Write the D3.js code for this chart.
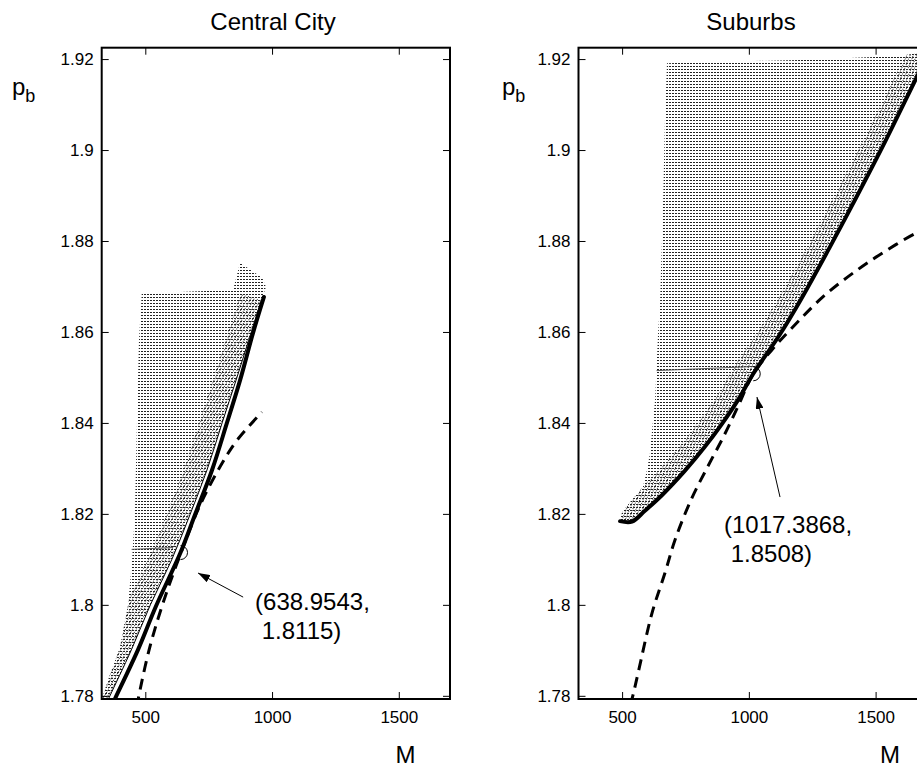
<!DOCTYPE html>
<html>
<head>
<meta charset="utf-8">
<script src="https://cdn.jsdelivr.net/npm/d3@7"></script>
<style>
  body { margin: 0; background: #fff; }
  svg { display: block; font-family: "Liberation Sans", Arial, sans-serif; }
</style>
</head>
<body>
<svg id="chart" width="917" height="768"></svg>
<script>
// ----- Axes -----
const xDomain = [328, 1702];
const yDomain = [1.7793, 1.9225];
const xTicks = [500, 1000, 1500];
const yTicks = [1.78, 1.8, 1.82, 1.84, 1.86, 1.88, 1.9, 1.92];
const yTickLabels = ["1.78", "1.8", "1.82", "1.84", "1.86", "1.88", "1.9", "1.92"];

// ----- Central City -----
// thick frontier
const cityFrontierM = [365, 380, 471, 542, 639, 696, 763, 822, 874, 925, 968];
const cityFrontierP = [1.7775, 1.7793, 1.7901, 1.7997, 1.8115, 1.8198, 1.8296, 1.8400, 1.8494, 1.8598, 1.8677];
// thin envelope of the shaded family
const cityEnvelopeM = [340, 358, 445, 520, 604, 676, 743, 803, 858, 908, 958];
const cityEnvelopeP = [1.7775, 1.7797, 1.7901, 1.8000, 1.8099, 1.8198, 1.8296, 1.8400, 1.8494, 1.8582, 1.8670];
// dashed curve
const cityDashM = [466, 472, 515, 570, 641, 720, 810, 862, 960];
const cityDashP = [1.7775, 1.7793, 1.7901, 1.8004, 1.8115, 1.8224, 1.8318, 1.8362, 1.8424];
// shaded region: left edge (bottom to top) and top edge (left to right)
const cityHatchLeftM = [328, 329, 353, 400, 432, 447, 459, 467, 475, 486];
const cityHatchLeftP = [1.7775, 1.7793, 1.7835, 1.7907, 1.8000, 1.8092, 1.8202, 1.8400, 1.8582, 1.8686];
const cityHatchTopM = [637, 846, 874, 961, 976];
const cityHatchTopP = [1.8688, 1.8692, 1.8752, 1.8719, 1.8699];
// darker line of the family at the optimum
const cityLevelM = [446, 610];
const cityLevelP = [1.8122, 1.8126];
const cityOptimum = [638.9543, 1.8115];
const cityArrowM = [886, 708];
const cityArrowP = [1.8017, 1.8070];
const cityLabelPos = [933, 1.7989];
const cityLabel = ["(638.9543,", " 1.8115)"];

// ----- Suburbs -----
const subFrontierM = [492, 539, 590, 657, 748, 827, 894, 957, 1017.3868, 1123, 1206, 1320, 1423, 1537, 1663, 1754];
const subFrontierP = [1.8184, 1.8183, 1.8207, 1.8241, 1.8295, 1.8348, 1.8398, 1.8450, 1.8508, 1.8595, 1.8672, 1.8787, 1.8895, 1.9018, 1.9161, 1.9264];
const subDashM = [531, 539, 563, 618, 669, 709, 772, 835, 902, 957, 1017.3868, 1090, 1162, 1292, 1427, 1545, 1663, 1754];
const subDashP = [1.7780, 1.7793, 1.7850, 1.7982, 1.8070, 1.8143, 1.8231, 1.8301, 1.8372, 1.8436, 1.8508, 1.8560, 1.8604, 1.8677, 1.8736, 1.8780, 1.8818, 1.8837];
const subHatchLeftM = [492, 500, 539, 582, 598, 610, 622, 630, 642, 650, 662, 669, 677];
const subHatchLeftP = [1.8186, 1.8204, 1.8231, 1.8259, 1.8296, 1.8334, 1.8406, 1.8450, 1.8598, 1.8670, 1.8890, 1.9066, 1.9191];
const subHatchTopM = [1202, 1596, 1663, 1702];
const subHatchTopP = [1.9198, 1.9207, 1.9213, 1.9216];
const subLevelM = [636, 1017];
const subLevelP = [1.8515, 1.8524];
const subOptimum = [1017.3868, 1.8508];
const subArrowM = [1123, 1032];
const subArrowP = [1.8237, 1.8457];
const subLabelPos = [902, 1.8158];
const subLabel = ["(1017.3868,", " 1.8508)"];

// ----- Layout -----
const TOP = 47.7, BOTTOM = 699, PANEL_W = 348.3;

const panels = [
  {
    key: "city", title: "Central City", left: 101.7, titleX: 273, pbX: 12, mX: 395.5,
    frontier: d3.zip(cityFrontierM, cityFrontierP),
    envelope: d3.zip(cityEnvelopeM, cityEnvelopeP),
    dash: d3.zip(cityDashM, cityDashP),
    hatch: d3.zip(cityHatchLeftM, cityHatchLeftP)
      .concat(d3.zip(cityHatchTopM, cityHatchTopP))
      .concat(d3.zip(cityEnvelopeM, cityEnvelopeP).reverse()),
    level: d3.zip(cityLevelM, cityLevelP),
    optimum: cityOptimum,
    arrow: d3.zip(cityArrowM, cityArrowP),
    labelPos: cityLabelPos, label: cityLabel,
    bandWidth: 44, bandAngle: 30, thinEnvelope: true
  },
  {
    key: "sub", title: "Suburbs", left: 578.5, titleX: 751, pbX: 502, mX: 880,
    frontier: d3.zip(subFrontierM, subFrontierP),
    envelope: d3.zip(subFrontierM, subFrontierP),
    dash: d3.zip(subDashM, subDashP),
    hatch: d3.zip(subHatchLeftM, subHatchLeftP)
      .concat(d3.zip(subHatchTopM, subHatchTopP))
      .concat(d3.zip(subFrontierM, subFrontierP).reverse()),
    level: d3.zip(subLevelM, subLevelP),
    optimum: subOptimum,
    arrow: d3.zip(subArrowM, subArrowP),
    labelPos: subLabelPos, label: subLabel,
    bandWidth: 40, bandAngle: 22, thinEnvelope: false
  }
];

const svg = d3.select("#chart");
const defs = svg.append("defs");

// dotted horizontal hatching
const hatchPattern = defs.append("pattern")
  .attr("id", "hatch")
  .attr("patternUnits", "userSpaceOnUse")
  .attr("width", 3)
  .attr("height", 3);
hatchPattern.append("rect").attr("width", 2).attr("height", 1).attr("fill", "#222");

// arrow head
defs.append("marker")
  .attr("id", "arrowHead")
  .attr("viewBox", "0 0 12 8")
  .attr("refX", 12).attr("refY", 4)
  .attr("markerWidth", 12).attr("markerHeight", 8)
  .attr("markerUnits", "userSpaceOnUse")
  .attr("orient", "auto")
  .append("path")
  .attr("d", "M0,0L12,4L0,8Z")
  .attr("fill", "#000");

const y = d3.scaleLinear().domain(yDomain).range([BOTTOM, TOP]);

panels.forEach(p => {
  const x = d3.scaleLinear().domain(xDomain).range([p.left, p.left + PANEL_W]);
  const right = p.left + PANEL_W;

  const smooth = d3.line()
    .x(d => x(d[0]))
    .y(d => y(d[1]))
    .curve(d3.curveCatmullRom.alpha(0.5));
  const straight = d3.line()
    .x(d => x(d[0]))
    .y(d => y(d[1]));

  // clip paths
  defs.append("clipPath").attr("id", `plot-${p.key}`)
    .append("rect")
    .attr("x", p.left).attr("y", TOP)
    .attr("width", PANEL_W).attr("height", BOTTOM - TOP);
  defs.append("clipPath").attr("id", `hatchClip-${p.key}`)
    .append("path").attr("d", straight(p.hatch) + "Z");

  // slanted dots near the envelope
  const diag = defs.append("pattern")
    .attr("id", `diag-${p.key}`)
    .attr("patternUnits", "userSpaceOnUse")
    .attr("width", 3).attr("height", 2)
    .attr("patternTransform", `rotate(${p.bandAngle})`);
  diag.append("rect").attr("width", 1).attr("height", 1).attr("fill", "#333");

  const g = svg.append("g").attr("clip-path", `url(#plot-${p.key})`);

  // shaded family of curves
  g.append("path")
    .attr("d", straight(p.hatch) + "Z")
    .attr("fill", "url(#hatch)");

  g.append("path")
    .attr("d", smooth(p.envelope))
    .attr("fill", "none")
    .attr("stroke", `url(#diag-${p.key})`)
    .attr("stroke-width", p.bandWidth)
    .attr("clip-path", `url(#hatchClip-${p.key})`);

  g.append("path")
    .attr("d", straight(p.level))
    .attr("fill", "none")
    .attr("stroke", "#444")
    .attr("stroke-width", 0.9);

  if (p.thinEnvelope) {
    g.append("path")
      .attr("d", smooth(p.envelope))
      .attr("fill", "none")
      .attr("stroke", "#000")
      .attr("stroke-width", 1);
  }

  // dashed curve
  g.append("path")
    .attr("d", smooth(p.dash))
    .attr("fill", "none")
    .attr("stroke", "#000")
    .attr("stroke-width", 3)
    .attr("stroke-dasharray", "11,7");

  // thick frontier
  g.append("path")
    .attr("d", smooth(p.frontier))
    .attr("fill", "none")
    .attr("stroke", "#000")
    .attr("stroke-width", 4)
    .attr("stroke-linecap", "round")
    .attr("stroke-linejoin", "round");

  // optimum marker (half circle visible to the right)
  const arc = d3.path();
  arc.arc(x(p.optimum[0]), y(p.optimum[1]), 7, -Math.PI / 2, Math.PI / 2);
  g.append("path")
    .attr("d", arc.toString())
    .attr("fill", "none")
    .attr("stroke", "#000")
    .attr("stroke-width", 1);

  // arrow
  svg.append("path")
    .attr("d", straight(p.arrow))
    .attr("fill", "none")
    .attr("stroke", "#000")
    .attr("stroke-width", 1)
    .attr("marker-end", "url(#arrowHead)");

  // coordinate label
  const lab = svg.append("text")
    .attr("x", x(p.labelPos[0]))
    .attr("y", y(p.labelPos[1]))
    .attr("font-size", 24)
    .attr("fill", "#000")
    .style("white-space", "pre");
  lab.selectAll("tspan").data(p.label).join("tspan")
    .attr("x", x(p.labelPos[0]))
    .attr("dy", (d, i) => i === 0 ? 0 : 29)
    .text(d => d);

  // frame
  svg.append("rect")
    .attr("x", p.left).attr("y", TOP)
    .attr("width", PANEL_W).attr("height", BOTTOM - TOP)
    .attr("fill", "none")
    .attr("stroke", "#000")
    .attr("stroke-width", 2);

  // axes with inward ticks
  const axisFont = g => g
    .attr("font-size", 17)
    .attr("font-family", "'Liberation Sans', Arial, sans-serif")
    .call(s => s.select(".domain").remove())
    .call(s => s.selectAll(".tick line").attr("stroke", "#000"))
    .call(s => s.selectAll(".tick text").attr("fill", "#000"));

  svg.append("g")
    .attr("transform", `translate(0,${BOTTOM})`)
    .call(d3.axisBottom(x).tickValues(xTicks).tickSize(-7).tickSizeOuter(0)
      .tickPadding(12).tickFormat(d3.format("d")))
    .call(axisFont);
  svg.append("g")
    .attr("transform", `translate(0,${TOP})`)
    .call(d3.axisTop(x).tickValues(xTicks).tickSize(-7).tickSizeOuter(0).tickFormat(""))
    .call(axisFont);
  svg.append("g")
    .attr("transform", `translate(${p.left},0)`)
    .call(d3.axisLeft(y).tickValues(yTicks).tickSize(-7).tickSizeOuter(0)
      .tickPadding(8).tickFormat((d, i) => yTickLabels[i]))
    .call(axisFont);
  svg.append("g")
    .attr("transform", `translate(${right},0)`)
    .call(d3.axisRight(y).tickValues(yTicks).tickSize(-7).tickSizeOuter(0).tickFormat(""))
    .call(axisFont);

  // titles and axis names
  svg.append("text")
    .attr("x", p.titleX).attr("y", 29.5)
    .attr("text-anchor", "middle")
    .attr("font-size", 24)
    .text(p.title);

  const pb = svg.append("text")
    .attr("x", p.pbX).attr("y", 95)
    .attr("font-size", 24);
  pb.append("tspan").text("p");
  pb.append("tspan").attr("dy", 7).attr("font-size", 18).text("b");

  svg.append("text")
    .attr("x", p.mX).attr("y", 763)
    .attr("font-size", 24)
    .text("M");
});
</script>
</body>
</html>
